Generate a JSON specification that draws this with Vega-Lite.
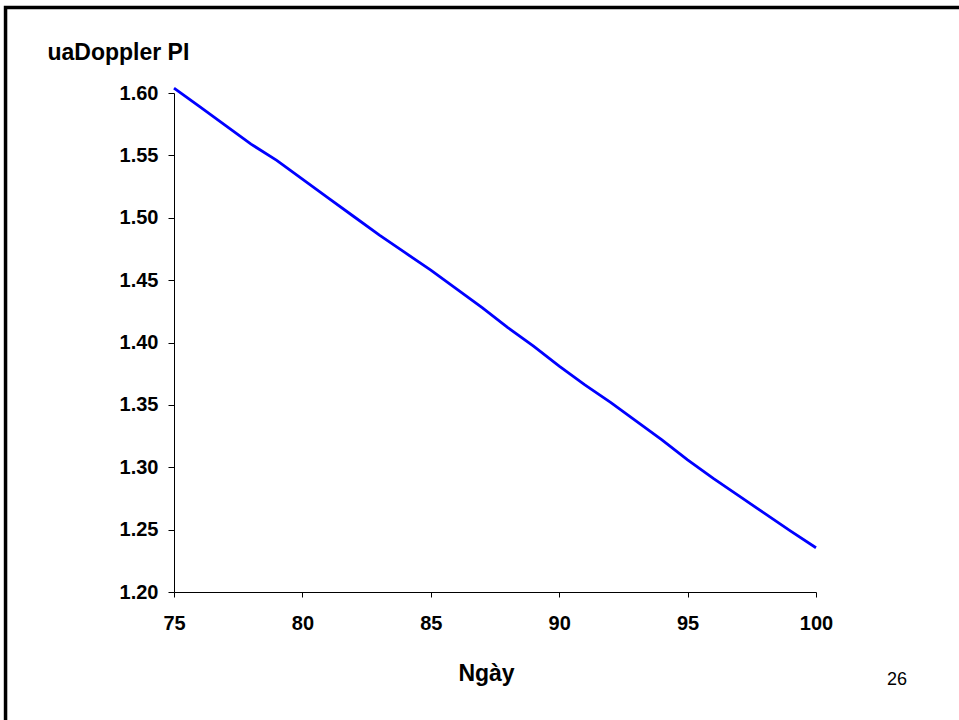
{
  "$schema": "https://vega.github.io/schema/vega-lite/v6.json",
  "autosize": {"type": "none"},
  "padding": {"left": 174, "top": 93, "right": 143, "bottom": 128},
  "width": 642,
  "height": 499,
  "background": "white",
  "config": {
    "view": {"stroke": null},
    "font": "Liberation Sans",
    "axis": {
      "grid": false,
      "domainColor": "black",
      "tickColor": "black",
      "labelColor": "black",
      "titleColor": "black",
      "labelFont": "Liberation Sans",
      "titleFont": "Liberation Sans",
      "labelFontWeight": "bold",
      "titleFontWeight": "bold",
      "labelFontSize": 20,
      "labelFlush": false,
      "labelOverlap": false,
      "domainWidth": 1,
      "tickWidth": 1
    }
  },
  "datasets": {
    "pi": [
      {"day": 75, "pi": 1.604},
      {"day": 76, "pi": 1.589},
      {"day": 77, "pi": 1.574},
      {"day": 78, "pi": 1.559},
      {"day": 79, "pi": 1.546},
      {"day": 80, "pi": 1.531},
      {"day": 81, "pi": 1.516},
      {"day": 82, "pi": 1.501},
      {"day": 83, "pi": 1.486},
      {"day": 84, "pi": 1.472},
      {"day": 85, "pi": 1.458},
      {"day": 86, "pi": 1.443},
      {"day": 87, "pi": 1.428},
      {"day": 88, "pi": 1.412},
      {"day": 89, "pi": 1.397},
      {"day": 90, "pi": 1.381},
      {"day": 91, "pi": 1.366},
      {"day": 92, "pi": 1.352},
      {"day": 93, "pi": 1.337},
      {"day": 94, "pi": 1.322},
      {"day": 95, "pi": 1.306},
      {"day": 96, "pi": 1.291},
      {"day": 97, "pi": 1.277},
      {"day": 98, "pi": 1.263},
      {"day": 99, "pi": 1.249},
      {"day": 100, "pi": 1.2355}
    ],
    "page": [{"label": "26"}],
    "frame": [{"name": "frame"}]
  },
  "layer": [
    {
      "data": {"name": "frame"},
      "mark": {"type": "rect", "fill": null, "stroke": "black", "strokeWidth": 3.5, "clip": false},
      "encoding": {
        "x": {"datum": 68.44, "type": "quantitative", "scale": {"domain": [75, 100], "nice": false, "zero": false}},
        "x2": {"datum": 106.2},
        "y": {"datum": 1.6685, "type": "quantitative", "scale": {"domain": [1.2, 1.6], "nice": false, "zero": false}},
        "y2": {"datum": 1.0814}
      }
    },
    {
      "data": {"name": "pi"},
      "mark": {"type": "line", "color": "#0000FF", "strokeWidth": 2.8, "clip": false},
      "encoding": {
        "x": {
          "field": "day",
          "type": "quantitative",
          "scale": {"domain": [75, 100], "nice": false, "zero": false},
          "axis": {
            "title": "Ngày",
            "values": [75, 80, 85, 90, 95, 100],
            "tickSize": 5,
            "labelPadding": 16,
            "titleFontSize": 23,
            "titlePadding": 29,
            "titleX": 312,
            "titleAlign": "center"
          }
        },
        "y": {
          "field": "pi",
          "type": "quantitative",
          "scale": {"domain": [1.2, 1.6], "nice": false, "zero": false},
          "axis": {
            "title": "uaDoppler PI",
            "values": [1.2, 1.25, 1.3, 1.35, 1.4, 1.45, 1.5, 1.55, 1.6],
            "format": ".2f",
            "tickSize": 6,
            "labelPadding": 10,
            "titleFontSize": 23,
            "titleAngle": 0,
            "titleAlign": "left",
            "titleBaseline": "alphabetic",
            "titleX": -127,
            "titleY": -34
          }
        }
      }
    },
    {
      "data": {"name": "page"},
      "mark": {"type": "text", "font": "Liberation Sans", "fontSize": 18, "color": "black", "align": "center", "baseline": "middle", "clip": false},
      "encoding": {
        "text": {"field": "label"},
        "x": {"datum": 103.15, "type": "quantitative"},
        "y": {"datum": 1.1295, "type": "quantitative"}
      }
    }
  ]
}
